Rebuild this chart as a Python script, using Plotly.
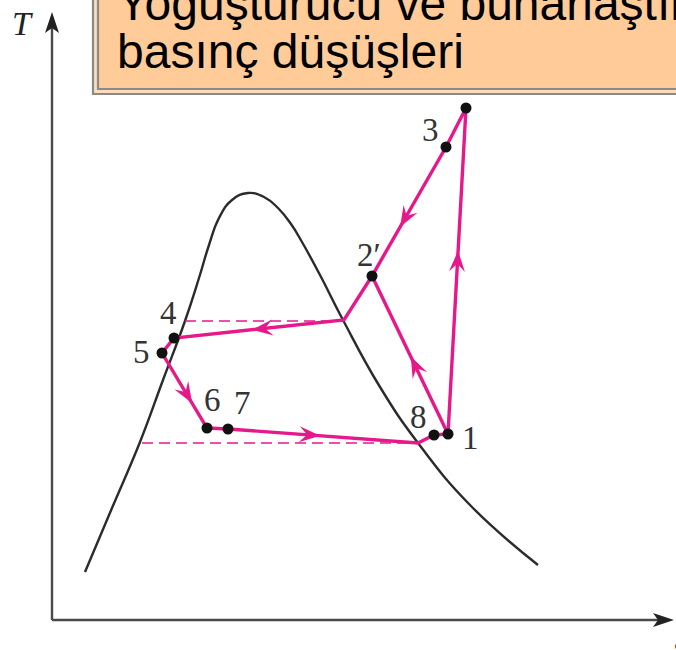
import numpy as np
import plotly.graph_objects as go

# ---- T-s diagram of an actual vapour-compression refrigeration cycle ----
# state points (s, T) in arbitrary diagram units
state_names = ["1", "2", "3", "2′", "4", "5", "6", "7", "8"]
state_s = [448, 466, 446, 372, 174, 162, 207, 228, 434]
state_T = [216, 542, 503, 374, 312, 297, 222, 221, 215]

# cycle path: 1-2-3-2'-(sat. vapour)-4-5-6-7-(sat. vapour)-8-1
cycle_s = [448, 466, 446, 372, 344, 174, 162, 207, 228, 418, 434, 448]
cycle_T = [216, 542, 503, 374, 330, 312, 297, 222, 221, 207, 215, 216]

# branch 1 -> 2'
branch_s = [448, 372]
branch_T = [216, 374]

# saturation dome
dome_s = [85, 112, 140, 163, 185, 199, 209, 219, 232, 248, 264, 278,
          291, 302, 320, 343, 380, 418, 470, 538]
dome_T = [78, 142, 208, 270, 329, 372, 405, 432, 450, 457, 453, 442,
          426, 408, 375, 330, 263, 207, 145, 85]

# saturation temperatures at condenser / evaporator pressures
sat_high_s = [185, 344]
sat_high_T = [329, 329]
sat_low_s = [142, 418]
sat_low_T = [207, 207]

title_lines = ["Yoğuşturucu ve buharlaştırıcıdaki", "basınç düşüşleri"]

MAGENTA = "#E6198A"
INK = "#2b2b2b"
AXIS = "#4a4a4a"

fig = go.Figure()

# dome
fig.add_trace(go.Scatter(x=dome_s, y=dome_T, mode="lines",
                         line=dict(color=INK, width=2.4, shape="spline", smoothing=1.3),
                         hoverinfo="skip", showlegend=False))

# dashed saturation lines
for xs, ys in [(sat_high_s, sat_high_T), (sat_low_s, sat_low_T)]:
    fig.add_trace(go.Scatter(x=xs, y=ys, mode="lines",
                             line=dict(color=MAGENTA, width=1.6, dash="11px,6px"),
                             hoverinfo="skip", showlegend=False))

# cycle lines
fig.add_trace(go.Scatter(x=cycle_s, y=cycle_T, mode="lines",
                         line=dict(color=MAGENTA, width=3.4),
                         hoverinfo="skip", showlegend=False))
fig.add_trace(go.Scatter(x=branch_s, y=branch_T, mode="lines",
                         line=dict(color=MAGENTA, width=3.4),
                         hoverinfo="skip", showlegend=False))

# state dots
fig.add_trace(go.Scatter(x=state_s, y=state_T, mode="markers",
                         marker=dict(color="#111111", size=11),
                         hoverinfo="skip", showlegend=False))

LABEL_FONT = dict(family="Liberation Serif", size=33, color="#333333")

# label offsets (pixels); state 2 label is hidden behind the heading box
label_offsets = {"1": (22, -4), "3": (-16, 17), "2′": (-3, 21), "4": (-6, 25),
                 "5": (-21, 1), "6": (5, 28), "7": (14, 26), "8": (-16, 18)}
for name, s, t in zip(state_names, state_s, state_T):
    if name not in label_offsets:
        continue
    dx, dy = label_offsets[name]
    fig.add_annotation(x=s, y=t, text=name, showarrow=False,
                       xshift=dx, yshift=dy, font=LABEL_FONT)

shapes = []


def arrow_head(p0, p1, frac, length=21, half=8):
    p0 = np.array(p0, float)
    p1 = np.array(p1, float)
    d = (p1 - p0) / np.linalg.norm(p1 - p0)
    n = np.array([-d[1], d[0]])
    tip = p0 + frac * (p1 - p0) + d * length / 2
    a = tip - d * length + n * half
    b = tip - d * length * 0.62
    c = tip - d * length - n * half
    path = "M {:.1f},{:.1f} L {:.1f},{:.1f} L {:.1f},{:.1f} L {:.1f},{:.1f} Z".format(
        tip[0], tip[1], a[0], a[1], b[0], b[1], c[0], c[1])
    return dict(type="path", path=path, fillcolor=MAGENTA, line=dict(width=0),
                xref="x", yref="y", layer="above")


# flow-direction arrows along the cycle
arrow_specs = [
    ((cycle_s[0], cycle_T[0]), (cycle_s[1], cycle_T[1]), 0.53),   # 1 -> 2
    ((cycle_s[2], cycle_T[2]), (cycle_s[3], cycle_T[3]), 0.55),   # 3 -> 2'
    ((branch_s[0], branch_T[0]), (branch_s[1], branch_T[1]), 0.43),  # 1 -> 2'
    ((cycle_s[4], cycle_T[4]), (cycle_s[5], cycle_T[5]), 0.48),   # condenser
    ((cycle_s[6], cycle_T[6]), (cycle_s[7], cycle_T[7]), 0.55),   # 5 -> 6
    ((cycle_s[8], cycle_T[8]), (cycle_s[9], cycle_T[9]), 0.43),   # evaporator
]
for p0, p1, f in arrow_specs:
    shapes.append(arrow_head(p0, p1, f))

# axes with arrowheads
ax0_s, ax0_T = 52, 30
t_top, s_right = 638, 674
shapes.append(dict(type="line", x0=ax0_s, y0=ax0_T, x1=ax0_s, y1=t_top - 16,
                   line=dict(color=AXIS, width=2.4), layer="above"))
shapes.append(dict(type="line", x0=ax0_s, y0=ax0_T, x1=s_right - 14, y1=ax0_T,
                   line=dict(color=AXIS, width=2.4), layer="above"))
shapes.append(dict(type="path",
                   path=f"M {ax0_s},{t_top} L {ax0_s - 7},{t_top - 21} L {ax0_s},{t_top - 16} L {ax0_s + 7},{t_top - 21} Z",
                   fillcolor="#222222", line=dict(width=0), layer="above"))
shapes.append(dict(type="path",
                   path=f"M {s_right},{ax0_T} L {s_right - 21},{ax0_T + 7} L {s_right - 16},{ax0_T} L {s_right - 21},{ax0_T - 7} Z",
                   fillcolor="#222222", line=dict(width=0), layer="above"))

# heading box with double border
shapes.append(dict(type="rect", x0=93, y0=556, x1=700, y1=680,
                   fillcolor="#FDDDBB", line=dict(color="#8a8a8a", width=2.2), layer="above"))
shapes.append(dict(type="rect", x0=98, y0=561, x1=700, y1=680,
                   fillcolor="#FFCC99", line=dict(color="#8a8a8a", width=2.2), layer="above"))

fig.update_layout(shapes=shapes)

# axis titles
fig.add_annotation(x=22, y=627, text="<i>T</i>", showarrow=False,
                   font=dict(family="Liberation Serif", size=34, color="#222222"))
fig.add_annotation(x=676, y=4, text="<i>s</i>", showarrow=False, xanchor="left",
                   xshift=-5, font=dict(family="Liberation Serif", size=34, color="#222222"))

# heading text
TITLE_FONT = dict(family="Liberation Sans", size=48, color="#000000")
fig.add_annotation(x=115, y=618, text=title_lines[0], showarrow=False,
                   xanchor="left", yanchor="bottom", font=TITLE_FONT)
fig.add_annotation(x=115, y=570, text=title_lines[1], showarrow=False,
                   xanchor="left", yanchor="bottom", font=TITLE_FONT)

fig.update_xaxes(range=[0, 676], visible=False, fixedrange=True)
fig.update_yaxes(range=[0, 650], visible=False, fixedrange=True)
fig.update_layout(width=676, height=650, margin=dict(l=0, r=0, t=0, b=0),
                  plot_bgcolor="white", paper_bgcolor="white", showlegend=False)

fig.write_html("out.html", config={"displayModeBar": False})
